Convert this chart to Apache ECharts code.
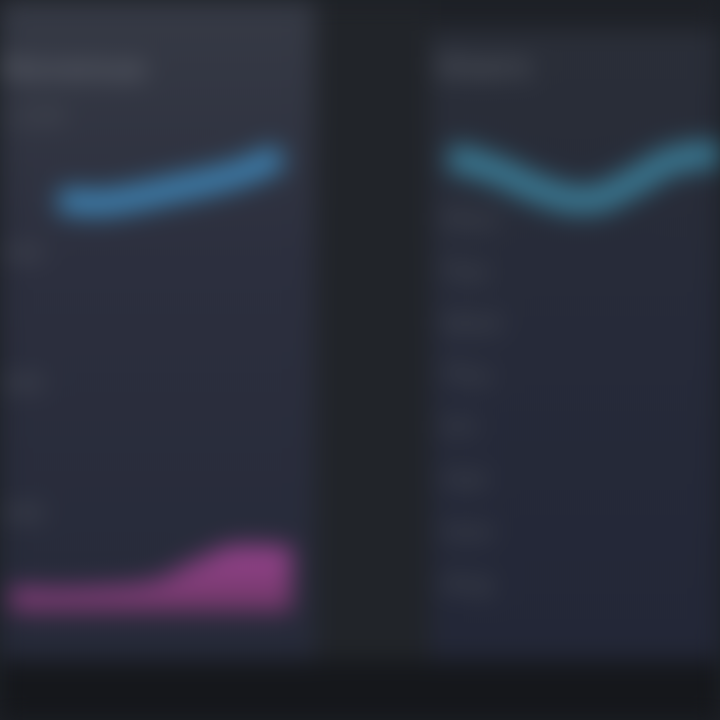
<!DOCTYPE html>
<html><head><meta charset="utf-8">
<script src="https://cdn.jsdelivr.net/npm/echarts@6/dist/echarts.min.js"></script>
<style>
html,body{margin:0;padding:0;background:#1c1f25;overflow:hidden;width:720px;height:720px}
#wrap{position:absolute;left:0;top:0;width:720px;height:720px;filter:blur(12px);background:#1e2127}
#chart{width:720px;height:720px}
</style></head>
<body><div id="wrap"><div id="chart"></div></div>
<script>
// ---- data ----
const months = ['Jan','Feb','Mar','Apr','May','Jun','Jul'];
const leftLine = [30, 27, 32, 40, 48, 58, 74];
const pinkArea = [22, 20, 22, 27, 49, 64, 62];
const rightLine = [93, 80, 60, 50, 66, 90, 96];
const leftTitle = 'Revenue';
const rightTitle = 'Users';
const leftAxisLabels = ['1,200', '900', '600', '300'];
const rightAxisLabels = ['Mon', 'Tue', 'Wed', 'Thu', 'Fri', 'Sat', 'Sun', 'Avg'];

const chart = echarts.init(document.getElementById('chart'), null, {renderer: 'canvas'});

const hiddenX = (gi) => ({type:'category', gridIndex:gi, data:months, boundaryGap:false, show:false});
const hiddenY = (gi) => ({type:'value', gridIndex:gi, min:0, max:100, show:false});

const graphics = [
  {type:'rect', shape:{x:0,y:0,width:720,height:720}, style:{fill:'#1e2127'}, z:-10},
  {type:'rect', shape:{x:0,y:0,width:315,height:660}, style:{fill:{type:'linear',x:0,y:0,x2:0,y2:1,colorStops:[{offset:0,color:'#363a45'},{offset:0.4,color:'#2c2f3e'},{offset:1,color:'#262a39'}]}}, z:-9},
  {type:'rect', shape:{x:315,y:0,width:115,height:660}, style:{fill:'#212429'}, z:-9},
  {type:'rect', shape:{x:430,y:30,width:290,height:630}, style:{fill:{type:'linear',x:0,y:0,x2:0,y2:1,colorStops:[{offset:0,color:'#2a2e38'},{offset:0.5,color:'#262a39'},{offset:1,color:'#232737'}]}}, z:-9},
  {type:'rect', shape:{x:0,y:660,width:720,height:60}, style:{fill:'#15171b'}, z:-8},
  {type:'text', x:0, y:56, style:{text:leftTitle, fill:'#5e626c', font:'bold 30px "DejaVu Sans"'}},
  {type:'text', x:436, y:54, style:{text:rightTitle, fill:'#52565f', font:'bold 30px "DejaVu Sans"'}},
];
const leftYs = [108, 245, 375, 505];
leftAxisLabels.forEach((t,i)=>graphics.push({type:'text', x:2, y:leftYs[i], style:{text:t, fill:'#4a4e58', font:'bold 20px "DejaVu Sans"'}}));
rightAxisLabels.forEach((t,i)=>graphics.push({type:'text', x:442, y:210+i*52, style:{text:t, fill:'#41454f', font:'bold 24px "DejaVu Sans"'}}));

chart.setOption({
  backgroundColor:'transparent',
  animation:false,
  graphic: graphics,
  grid:[
    {left:60, width:220, top:130, height:100},
    {left:10, width:282, top:512, height:100},
    {left:450, width:270, top:150, height:100},
  ],
  xAxis:[hiddenX(0), hiddenX(1), hiddenX(2)],
  yAxis:[hiddenY(0), hiddenY(1), hiddenY(2)],
  series:[
    {type:'line', xAxisIndex:0, yAxisIndex:0, data:leftLine, smooth:true, symbol:'none',
      lineStyle:{color:'#3e82b2', width:22, shadowBlur:14, shadowColor:'rgba(63,134,180,0.6)'}},
    {type:'line', xAxisIndex:1, yAxisIndex:1, data:pinkArea, smooth:true, symbol:'none',
      lineStyle:{color:'#93428a', width:6},
      areaStyle:{color:{type:'linear',x:0,y:0,x2:0,y2:1,colorStops:[{offset:0,color:'#95438c'},{offset:1,color:'#6e3766'}]}, opacity:1}},
    {type:'line', xAxisIndex:2, yAxisIndex:2, data:rightLine, smooth:true, symbol:'none',
      lineStyle:{color:'#3a7a94', width:24, shadowBlur:14, shadowColor:'rgba(61,127,152,0.6)'}},
  ]
});
</script></body></html>
